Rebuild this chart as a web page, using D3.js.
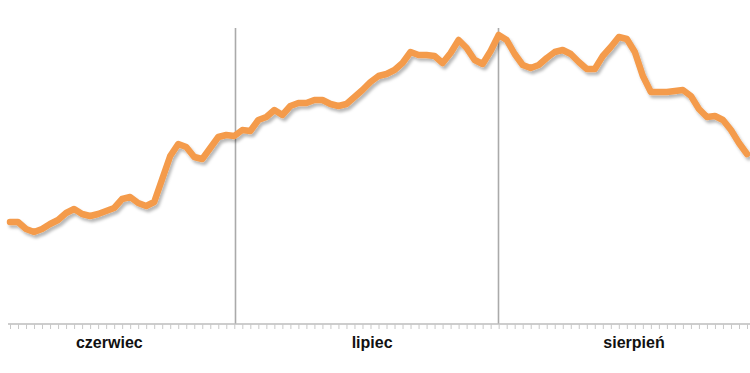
<!DOCTYPE html>
<html>
<head>
<meta charset="utf-8">
<script src="https://cdn.jsdelivr.net/npm/d3@7/dist/d3.min.js"></script>
<style>
  html, body { margin: 0; padding: 0; background: #fff; }
  svg { display: block; }
</style>
</head>
<body>
<script>
// Daily values, 1 June .. 31 August (index 0..92), arbitrary units
const values = [102,102,95,92,95,100,104,111,115,110,108,110,113,116,125,127,121,118,122,145,
  168,180,177,167,165,176,187,189,188,194,193,204,207,214,209,218,221,221,224,224,
  220,218,220,227,234,242,248,250,254,261,272,269,269,268,261,271,284,276,264,260,
  273,289,284,270,259,256,259,266,272,274,270,262,255,255,268,277,287,285,272,248,
  232,232,232,233,234,228,215,207,208,204,194,181,170];
const days = values.map((v, i) => i);
const months = ["czerwiec", "lipiec", "sierpień"];
const monthLabelAt = [12.4, 45.2, 77.9];   // day index where each month label sits
const monthBoundaries = [28.1, 60.9];       // day index of the vertical separators

const W = 750, H = 373;
const svg = d3.select("body").append("svg").attr("width", W).attr("height", H);

const x = d3.scaleLinear().domain([0, 92]).range([10, 747]);
const y = d3.scaleLinear().domain([0, 300]).range([324, 24]);
const axisY = 324;

const defs = svg.append("defs");
const f = defs.append("filter").attr("id", "shadow")
  .attr("x", "-5%").attr("y", "-10%").attr("width", "110%").attr("height", "130%");
f.append("feDropShadow").attr("dx", 2).attr("dy", 3).attr("stdDeviation", 1.6)
  .attr("flood-color", "#000").attr("flood-opacity", 0.28);

// vertical month separators
svg.selectAll("line.sep").data(monthBoundaries).join("line")
  .attr("class", "sep")
  .attr("x1", d => Math.round(x(d)) + 0.5).attr("x2", d => Math.round(x(d)) + 0.5)
  .attr("y1", 28).attr("y2", axisY)
  .attr("stroke", "#aaaaaa").attr("stroke-width", 1.6);

// axis with daily ticks
const axis = d3.axisBottom(x).tickValues(d3.range(0, 93, 1)).tickSize(5).tickFormat("");
const ag = svg.append("g").attr("transform", `translate(0,${axisY})`).call(axis);
ag.select(".domain").attr("stroke", "#bdbdbd").attr("stroke-width", 1.4)
  .attr("d", `M${x(0) - 2},0H${W}`);
ag.selectAll(".tick line").attr("stroke", "#c8c8c8").attr("stroke-width", 1);

// month labels
svg.selectAll("text.month").data(months).join("text")
  .attr("class", "month")
  .attr("x", (d, i) => x(monthLabelAt[i]))
  .attr("y", 348)
  .attr("text-anchor", "middle")
  .attr("font-family", "Liberation Sans, Arial, Helvetica, sans-serif")
  .attr("font-weight", "bold")
  .attr("font-size", 16)
  .attr("fill", "#111")
  .text(d => d);

// the line
const line = d3.line().x((d, i) => x(days[i])).y(d => y(d));
svg.append("path").datum(values)
  .attr("d", line)
  .attr("fill", "none")
  .attr("stroke", "#F49B4B")
  .attr("stroke-width", 6.5)
  .attr("stroke-linejoin", "round")
  .attr("stroke-linecap", "round")
  .attr("filter", "url(#shadow)");
</script>
</body>
</html>
